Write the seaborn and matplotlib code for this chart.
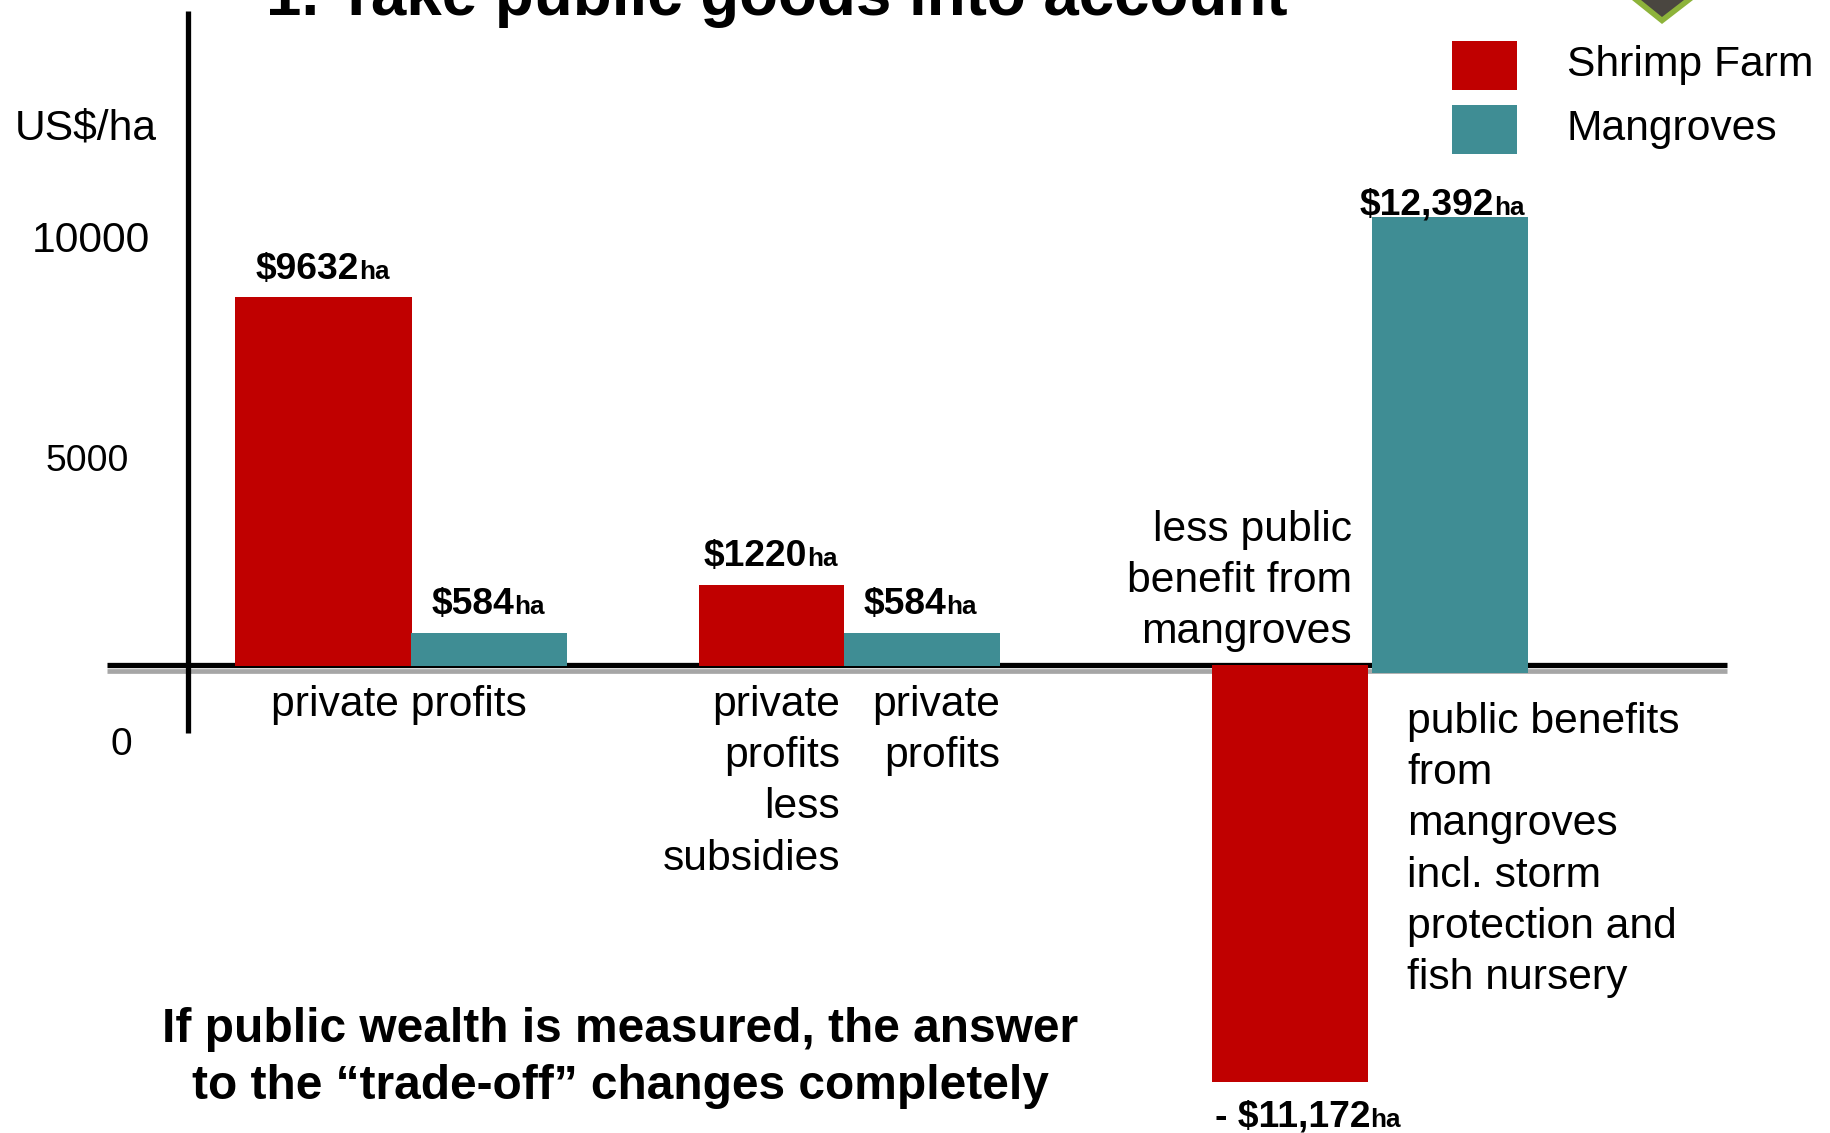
import numpy as np
import pandas as pd
import matplotlib
matplotlib.use("Agg")
import matplotlib.pyplot as plt
from matplotlib.lines import Line2D
from matplotlib.patches import Polygon, Rectangle
from matplotlib.transforms import Affine2D
import seaborn as sns

# Chart data
slots = ["Shrimp, private", "Mangrove, private", "Shrimp, less subsidies",
         "Mangrove, private 2", "Shrimp, public", "Mangrove, public"]
series = ["Shrimp Farm", "Mangroves", "Shrimp Farm", "Mangroves", "Shrimp Farm", "Mangroves"]
values = [9632, 584, 1220, 584, -11172, 12392]
value_labels = ["$9632", "$584", "$1220", "$584", "- $11,172", "$12,392"]
unit_label = "ha"
tick_labels = ["10000", "5000", "0"]
title = "1. Take public goods into account"
axis_label = "US$/ha"
takeaway = ["If public wealth is measured, the answer",
            "to the \u201ctrade-off\u201d changes completely"]

# Layout, in figure pixels measured from the top left
W, H = 1830, 1133
BASE = 666
bar_left = [235, 411, 699, 844, 1212, 1372]
bar_right = [412, 567, 844, 1000, 1368, 1528]
label_x = [256, 432, 704, 864, 1215, 1360]
label_base = [279, 614, 566, 614, 1127, 215]
COLORS = {"Shrimp Farm": "#C00000", "Mangroves": "#3F8D94"}
FONT = "Liberation Sans"

# The value axis is drawn with unequal spacing, so it uses a piecewise scale
scale_values = np.array([-12600.0, -11172, 0, 584, 1220, 9632, 12392, 18400])
scale_pixels = np.array([-467.0, -416, 0, 33, 81, 369, 449, 666])


def forward(v):
    return np.interp(v, scale_values, scale_pixels)


def inverse(p):
    return np.interp(p, scale_pixels, scale_values)


def value_at(py):
    return float(inverse(BASE - py))


sns.set_theme(style="white")
plt.rcParams["font.family"] = [FONT, "DejaVu Sans"]

fig = plt.figure(figsize=(W / 100, H / 100), dpi=100, facecolor="white")
ax = fig.add_axes([0, 0, 1, 1])
px = Affine2D().scale(1, -1).translate(0, H)

df = pd.DataFrame({"slot": slots, "series": series, "value": values})
sns.barplot(data=df, x="slot", y="value", hue="slot", order=slots, hue_order=slots,
            palette=[COLORS[s] for s in series], legend=False, ax=ax,
            saturation=1, errorbar=None, zorder=4, linewidth=0, edgecolor="none")

ax.set_yscale("function", functions=(forward, inverse))
ax.set_xlim(0, W)
ax.set_ylim(value_at(H), value_at(0))
ax.set_xticks([])
ax.set_yticks([])
ax.minorticks_off()
ax.set_xlabel("")
ax.set_ylabel("")
ax.set_facecolor("none")

for patch, left, right in zip(ax.patches, bar_left, bar_right):
    patch.set_x(left)
    patch.set_width(right - left)

# The last bar hangs slightly below the zero line, the negative one starts just above it
last = ax.patches[5]
low = value_at(673)
last.set_y(low)
last.set_height(values[5] - low)
neg = ax.patches[4]
neg.set_y(value_at(665))
neg.set_height(values[4] - value_at(665))

# Axis lines
for name in ("top", "right"):
    ax.spines[name].set_visible(False)
ax.spines["left"].set_position(("data", 188))
ax.spines["left"].set_bounds(value_at(733), value_at(11))
ax.spines["bottom"].set_position(("data", value_at(665)))
ax.spines["bottom"].set_bounds(107, 1727)
for name in ("left", "bottom"):
    ax.spines[name].set_color("black")
    ax.spines[name].set_linewidth(3.8)
    ax.spines[name].set_capstyle("butt")
ax.spines["left"].set_zorder(3)
ax.spines["bottom"].set_zorder(2)
ax.add_line(Line2D([107, 1727], [670.5, 670.5], transform=px, color="#a6a6a6",
                   lw=3.4, solid_capstyle="butt", zorder=1.5))


def put(x, y, s, size=30.7, weight="normal", ha="left"):
    return ax.text(x, y, s, transform=px, fontsize=size, fontweight=weight, ha=ha,
                   va="baseline", color="black", parse_math=False, clip_on=False, zorder=6)


def block(lines, x, first, step=51.2, ha="left", **kw):
    for i, line in enumerate(lines):
        put(x, first + i * step, line, ha=ha, **kw)


# Title, clipped by the top edge
put(266, 15, title, size=45.8, weight="bold")

# Corner emblem, cut by the top edge
ax.add_patch(Polygon([(1632, 0), (1693, 0), (1662, 24)], closed=True, transform=px,
                     facecolor="#8DB33A", edgecolor="none", zorder=5))
ax.add_patch(Polygon([(1641, 0), (1684, 0), (1662, 17)], closed=True, transform=px,
                     facecolor="#4A4640", edgecolor="none", zorder=5))

# Legend
for y0, name in ((41, "Shrimp Farm"), (105, "Mangroves")):
    ax.add_patch(Rectangle((1452, y0), 65, 49, transform=px, facecolor=COLORS[name],
                           edgecolor="none", zorder=5))
put(1567, 76, "Shrimp Farm")
put(1567, 140, "Mangroves")

# Value-axis labels
put(15, 140, axis_label)
put(32, 252, tick_labels[0])
put(46, 471, tick_labels[1], size=26.8)
put(111, 755, tick_labels[2], size=28)

# Bar value labels with the small unit set right after the amount
renderer = fig.canvas.get_renderer()
for text, x, y in zip(value_labels, label_x, label_base):
    t = put(x, y, text, size=26.8, weight="bold")
    end = t.get_window_extent(renderer).x1
    put(end - 0.5, y, unit_label, size=18.8, weight="bold")

# Annotations under and beside the bars
put(271, 716, "private profits")
block(["private", "profits", "less", "subsidies"], 840, 716, ha="right")
block(["private", "profits"], 1000, 716, ha="right")
block(["less public", "benefit from", "mangroves"], 1352, 541, ha="right")
block(["public benefits", "from", "mangroves", "incl. storm", "protection and", "fish nursery"],
      1407, 733)
block(takeaway, 620, 1042, step=57, ha="center", size=34.5, weight="bold")

fig.savefig("out.png", dpi=100, facecolor="white")
